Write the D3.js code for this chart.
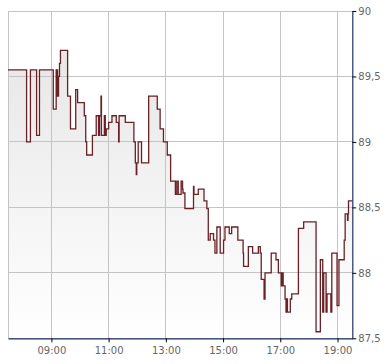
<!DOCTYPE html>
<html>
<head>
<meta charset="utf-8">
<script src="https://cdn.jsdelivr.net/npm/d3@7"></script>
<style>
html,body{margin:0;padding:0;background:#fff;}
svg{display:block;}
text{font-family:"DejaVu Sans",Verdana,sans-serif;font-size:10px;fill:#666;}
</style>
</head>
<body>
<svg id="chart" width="390" height="364"></svg>
<script>
// ---- data ----
const times = ["07:29","08:08","08:16","08:29","08:35","09:04","09:10","09:11","09:12","09:13","09:15","09:17","09:19",
"09:34","09:40","09:51","09:55","10:09","10:12","10:14","10:26","10:34","10:39","10:41","10:44","10:45","10:51","10:53",
"10:55","11:00","11:07","11:16","11:21","11:22","11:35","11:53","11:56","11:58","11:59","12:02","12:09","12:24","12:42",
"12:48","12:55","13:03","13:10","13:20","13:23","13:26","13:32","13:35","13:36","13:40","13:58","13:59","14:08","14:20",
"14:26","14:29","14:33","14:40","14:43","14:47","14:54","15:01","15:04","15:13","15:18","15:31","15:42","15:43","15:53",
"16:02","16:14","16:18","16:20","16:26","16:28","16:41","16:51","16:56","17:02","17:03","17:04","17:05","17:06","17:10",
"17:12","17:13","17:15","17:21","17:24","17:38","17:49","18:15","18:24","18:29","18:31","18:36","18:38","18:46","18:48",
"18:59","19:03","19:14","19:16","19:21","19:22","19:23"];
const prices = [89.55,89.00,89.55,89.05,89.55,89.25,89.55,89.35,89.55,89.35,89.50,89.60,89.70,
89.35,89.10,89.40,89.30,89.20,89.00,88.90,89.05,89.20,89.05,89.20,89.35,89.05,89.20,89.05,
89.10,89.15,89.20,89.15,89.00,89.20,89.15,89.00,88.84,88.75,88.84,89.00,88.84,89.35,89.25,
89.10,89.00,88.90,88.70,88.60,88.70,88.60,88.70,88.64,88.61,88.49,88.66,88.60,88.64,88.55,
88.49,88.25,88.30,88.25,88.15,88.35,88.15,88.25,88.35,88.30,88.35,88.25,88.15,88.05,88.20,
88.15,88.20,88.15,87.95,87.80,88.00,88.15,88.10,88.00,87.90,88.00,87.90,88.00,87.90,87.80,
87.70,87.80,87.70,87.80,87.84,88.34,88.39,87.55,88.10,87.70,88.00,87.70,87.84,87.70,88.15,
87.75,88.10,88.25,88.45,88.40,88.45,88.55];
const timeStart = "07:29";
const timeEnd = "19:31";
const xTickLabels = ["09:00","11:00","13:00","15:00","17:00","19:00"];
const yTickValues = [87.5,88,88.5,89,89.5,90];

// ---- helpers ----
const toMin = s => { const [h,m] = s.split(":").map(Number); return h*60+m; };
const data = times.map((t,i)=>({t:toMin(t), v:prices[i]}));
const xMax = toMin(timeEnd);
const series = data.concat([{t:xMax, v:data[data.length-1].v}]);

const svg = d3.select("#chart");
const pL = 8, pR = 352.3, pT = 11, pB = 338.3;

const x = d3.scaleLinear().domain([toMin(timeStart), xMax]).range([pL, pR]);
const y = d3.scaleLinear().domain([87.5, 90]).range([pB, pT]);

// gradient
const defs = svg.append("defs");
const grad = defs.append("linearGradient").attr("id","fillGrad")
  .attr("gradientUnits","userSpaceOnUse").attr("x1",0).attr("x2",0).attr("y1",pT).attr("y2",pB);
grad.append("stop").attr("offset","0%").attr("stop-color","#e4e4e4");
grad.append("stop").attr("offset","100%").attr("stop-color","#ffffff");

// area
const area = d3.area().curve(d3.curveStepAfter)
  .x(d=>x(d.t)).y0(pB).y1(d=>y(d.v));
svg.append("path").datum(series).attr("d",area).attr("fill","url(#fillGrad)");

// grid
const grid = svg.append("g").attr("stroke","#c4c4c4").attr("stroke-width",1).attr("shape-rendering","crispEdges");
yTickValues.forEach(v=>{
  grid.append("line").attr("x1",pL).attr("x2",pR).attr("y1",y(v)).attr("y2",y(v));
});
xTickLabels.forEach(s=>{
  grid.append("line").attr("x1",x(toMin(s))).attr("x2",x(toMin(s))).attr("y1",pT).attr("y2",pB);
});
grid.append("line").attr("x1",pL).attr("x2",pL).attr("y1",pT).attr("y2",pB);

// line
const line = d3.line().curve(d3.curveStepAfter).x(d=>x(d.t)).y(d=>y(d.v));
svg.append("path").datum(series).attr("d",line).attr("fill","none")
  .attr("stroke","#6b2026").attr("stroke-width",1.3);

// axes
const xAxis = d3.axisBottom(x).tickValues(xTickLabels.map(toMin))
  .tickFormat((d,i)=>xTickLabels[i]).tickSize(4).tickSizeOuter(0).tickPadding(5);
const gx = svg.append("g").attr("transform",`translate(0,${pB})`).call(xAxis);
gx.select(".domain").attr("stroke","#1c3566").attr("stroke-width",1.2);
gx.selectAll(".tick line").attr("stroke","#000");
gx.selectAll("text").style("font-family",'"DejaVu Sans",Verdana,sans-serif').style("font-size","10px").attr("fill","#666");

const yAxis = d3.axisRight(y).tickValues(yTickValues)
  .tickFormat(d=>String(d).replace(".",",")).tickSize(4).tickSizeOuter(0).tickPadding(2);
const gy = svg.append("g").attr("transform",`translate(${pR},0)`).call(yAxis);
gy.select(".domain").attr("stroke","#1c3566").attr("stroke-width",1.2);
gy.selectAll(".tick line").attr("stroke","#000");
gy.selectAll("text").style("font-family",'"DejaVu Sans",Verdana,sans-serif').style("font-size","10px").attr("fill","#666");
</script>
</body>
</html>
